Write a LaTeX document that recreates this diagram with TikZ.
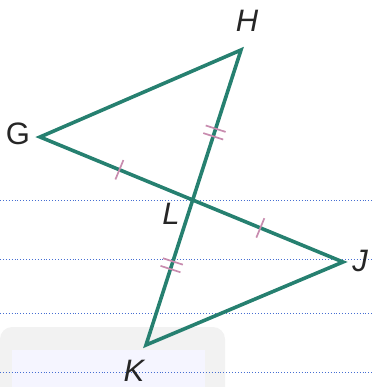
\documentclass[tikz,border=0pt]{standalone}
\usepackage{fontspec}
\setmainfont{Liberation Sans}
\usetikzlibrary{calc}
\definecolor{seg}{RGB}{38,128,112}
\definecolor{tickc}{RGB}{200,140,175}
\definecolor{dotb}{RGB}{70,110,210}
\tikzset{
  segline/.style={draw=seg,line width=3.6pt,line join=miter},
  tickmark/.style={draw=tickc,line width=1.7pt},
  rule/.style={draw=dotb,line width=0.9pt,dotted},
  lbl/.style={font=\fontsize{31}{31}\selectfont,inner sep=0pt,text=black!85},
}
\begin{document}
\begin{tikzpicture}[x=1pt,y=-1pt]
\useasboundingbox (0,0) rectangle (372,387);
% faint watermark
\fill[black!5,rounded corners=12pt] (0,327) rectangle (225,400);
\fill[blue!4] (12,350) rectangle (205,387);
% dotted rules
\coordinate (r1a) at (0,200); \coordinate (r1b) at (372,200);
\coordinate (r2a) at (0,259); \coordinate (r2b) at (372,259);
\coordinate (r3a) at (0,313); \coordinate (r3b) at (372,313);
\coordinate (r4a) at (0,372); \coordinate (r4b) at (372,372);
\draw[rule] (r1a) -- (r1b);
\draw[rule] (r2a) -- (r2b);
\draw[rule] (r3a) -- (r3b);
\draw[rule] (r4a) -- (r4b);
% vertices
\coordinate (G) at (40,137);
\coordinate (H) at (241,50);
\coordinate (J) at (343,262);
\coordinate (K) at (146,345);
\coordinate (L) at (intersection of G--J and H--K);
\path[segline] (G) -- (H) -- (K) -- (J) -- cycle;
% single ticks
\coordinate (m1) at ($(G)!0.52!(L)$);
\coordinate (m2) at ($(L)!0.45!(J)$);
\draw[tickmark] ($(m1)!10.5pt!90:(L)$) -- ($(m1)!10.5pt!-90:(L)$);
\draw[tickmark] ($(m2)!10.5pt!90:(J)$) -- ($(m2)!10.5pt!-90:(J)$);
% double ticks
\coordinate (d1) at ($(H)!0.55!(L)$);
\coordinate (d2) at ($(L)!0.45!(K)$);
\coordinate (d1a) at ($(d1)!4pt!(H)$);
\coordinate (d1b) at ($(d1)!-4pt!(H)$);
\coordinate (d2a) at ($(d2)!4pt!(K)$);
\coordinate (d2b) at ($(d2)!-4pt!(K)$);
\draw[tickmark] ($(d1a)!10.5pt!90:(H)$) -- ($(d1a)!10.5pt!-90:(H)$);
\draw[tickmark] ($(d1b)!10.5pt!90:(H)$) -- ($(d1b)!10.5pt!-90:(H)$);
\draw[tickmark] ($(d2a)!10.5pt!90:(K)$) -- ($(d2a)!10.5pt!-90:(K)$);
\draw[tickmark] ($(d2b)!10.5pt!90:(K)$) -- ($(d2b)!10.5pt!-90:(K)$);
% labels
\node[lbl] (lH) at (247,21) {\itshape H};
\node[lbl] (lG) at (18,134) {G};
\node[lbl] (lL) at (171,214) {\itshape L};
\node[lbl] (lJ) at (360,261) {\itshape J};
\node[lbl] (lK) at (134,371) {\itshape K};
\end{tikzpicture}
\end{document}
